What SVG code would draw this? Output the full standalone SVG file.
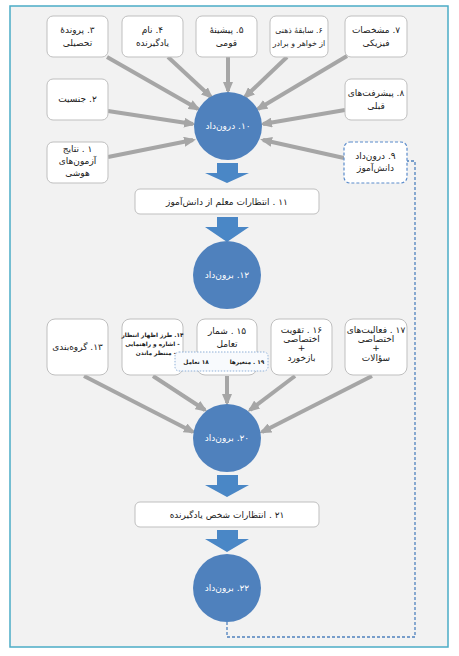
<svg xmlns="http://www.w3.org/2000/svg" width="459" height="656" viewBox="0 0 459 656">
<style>
.box{fill:#ffffff;stroke:#bfbfbf;stroke-width:1}
.t{font-family:"DejaVu Sans","Noto Sans",sans-serif;font-size:9px;fill:#1a1a1a;text-anchor:middle;direction:rtl}
.ts{font-family:"DejaVu Sans","Noto Sans",sans-serif;font-size:7.8px;fill:#1a1a1a;text-anchor:middle;direction:rtl}
.tb{font-family:"DejaVu Sans","Noto Sans",sans-serif;font-size:5.8px;font-weight:bold;fill:#1a1a1a;text-anchor:middle;direction:rtl}
.tw{font-family:"DejaVu Sans","Noto Sans",sans-serif;font-size:9px;fill:#ffffff;text-anchor:middle;direction:rtl}
.circ{fill:#4f81bd}
.blk{fill:#4a87c6}
.con{stroke:#a6a6a6;stroke-width:4;fill:none;marker-end:url(#ah)}
</style>
<defs>
<marker id="ah" markerUnits="userSpaceOnUse" markerWidth="12" markerHeight="10" refX="9" refY="5" orient="auto">
<path d="M0,0 L12,5 L0,10 z" fill="#a6a6a6"/>
</marker>
</defs>
<rect x="0" y="0" width="459" height="656" fill="#ffffff"/>
<rect x="10" y="6" width="438" height="641" fill="#f2f2f2" stroke="#4bacc6" stroke-width="1.5"/>

<g id="connectors">
<line class="con" x1="107" y1="57" x2="198" y2="109"/>
<line class="con" x1="168" y1="57" x2="211" y2="97"/>
<line class="con" x1="228" y1="57" x2="228" y2="91"/>
<line class="con" x1="287" y1="57" x2="245" y2="97"/>
<line class="con" x1="347" y1="56" x2="258" y2="109"/>
<line class="con" x1="108" y1="111" x2="193" y2="124"/>
<line class="con" x1="345" y1="110" x2="263" y2="124"/>
<line class="con" x1="108" y1="157" x2="193" y2="140"/>
<line class="con" x1="344" y1="158" x2="263" y2="140"/>
<line class="con" x1="84" y1="376" x2="193" y2="432"/>
<line class="con" x1="153" y1="376" x2="205" y2="410"/>
<line class="con" x1="227" y1="376" x2="227" y2="403"/>
<line class="con" x1="295" y1="376" x2="250" y2="410"/>
<line class="con" x1="372" y1="376" x2="262" y2="432"/>
<path d="M227,622 V637 H415 V161 H407" fill="none" stroke="#4f81bd" stroke-width="1.3" stroke-dasharray="3,2"/>
<polygon class="blk" points="217,163 238,163 238,173 249,173 227,183 205,173 217,173"/>
<polygon class="blk" points="217,217 238,217 238,227 249,227 227,242 205,227 217,227"/>
<polygon class="blk" points="217,475 238,475 238,485 249,485 227,497 205,485 217,485"/>
<polygon class="blk" points="217,530 238,530 238,539 249,539 227,552 205,539 217,539"/>
</g>

<g id="n3"><rect class="box" x="47" y="16" width="61" height="41" rx="6"/>
<text class="t" x="77.5" y="33">۳. پروندهٔ</text><text class="t" x="77.5" y="46">تحصیلی</text></g>
<g id="n4"><rect class="box" x="122" y="16" width="61" height="41" rx="6"/>
<text class="t" x="152.5" y="33">۴. نام</text><text class="t" x="152.5" y="46">یادگیرنده</text></g>
<g id="n5"><rect class="box" x="196" y="16" width="61" height="41" rx="6"/>
<text class="t" x="226.5" y="33">۵. پیشینهٔ</text><text class="t" x="226.5" y="46">قومی</text></g>
<g id="n6"><rect class="box" x="270" y="16" width="58" height="41" rx="6"/>
<text class="ts" x="299" y="33">۶. سابقهٔ ذهنی</text><text class="ts" x="299" y="46">از خواهر و برادر</text></g>
<g id="n7"><rect class="box" x="345" y="16" width="62" height="41" rx="6"/>
<text class="t" x="376" y="33">۷. مشخصات</text><text class="t" x="376" y="46">فیزیکی</text></g>
<g id="n2"><rect class="box" x="47" y="79" width="61" height="41" rx="6"/>
<text class="t" x="77.5" y="102">۲. جنسیت</text></g>
<g id="n8"><rect class="box" x="345" y="79" width="62" height="41" rx="6"/>
<text class="t" x="376" y="96">۸. پیشرفت‌های</text><text class="t" x="376" y="109">قبلی</text></g>
<g id="n1"><rect class="box" x="47" y="142" width="61" height="41" rx="6"/>
<text class="t" x="77.5" y="152">۱ . نتایج</text><text class="t" x="77.5" y="164">آزمون‌های</text><text class="t" x="77.5" y="176">هوشی</text></g>
<g id="n9"><rect x="344" y="142" width="63" height="41" rx="6" fill="#ffffff" stroke="#5b8ccc" stroke-width="1.2" stroke-dasharray="3,2"/>
<text class="t" x="375.5" y="159">۹. درون‌داد</text><text class="t" x="375.5" y="171">دانش‌آموز</text></g>
<g id="n10"><circle class="circ" cx="228" cy="126" r="34"/><text class="tw" x="228" y="129">۱۰. درون‌داد</text></g>
<g id="n11"><rect class="box" x="135" y="189" width="184" height="25" rx="5"/>
<text class="t" x="227" y="205">۱۱ . انتظارات معلم از دانش‌آموز</text></g>
<g id="n12"><circle class="circ" cx="227" cy="275" r="34"/><text class="tw" x="227" y="278">۱۲. برون‌داد</text></g>
<g id="n13"><rect class="box" x="47" y="319" width="61" height="56" rx="8"/>
<text class="t" x="77.5" y="350">۱۳. گروه‌بندی</text></g>
<g id="n14"><rect class="box" x="122" y="319" width="61" height="56" rx="8"/>
<text class="tb" x="152.5" y="337">۱۴. طرز اظهار انتظار</text><text class="tb" x="152.5" y="346">- اشاره و راهنمایی</text><text class="tb" x="156" y="355">- منتظر ماندن</text></g>
<g id="n15"><rect class="box" x="197" y="319" width="60" height="56" rx="8"/>
<text class="t" x="227" y="334">۱۵ . شمار</text><text class="t" x="227" y="347">تعامل</text></g>
<g id="n16"><rect class="box" x="271" y="319" width="61" height="56" rx="8"/>
<text class="t" x="301.5" y="333">۱۶ . تقویت</text><text class="t" x="301.5" y="342">اختصاصی</text><text class="t" x="301.5" y="351">+</text><text class="t" x="301.5" y="361">بازخورد</text></g>
<g id="n17"><rect class="box" x="345" y="319" width="62" height="56" rx="8"/>
<text class="t" x="376" y="333">۱۷ . فعالیت‌های</text><text class="t" x="376" y="342">اختصاصی</text><text class="t" x="376" y="351">+</text><text class="t" x="376" y="361">سؤالات</text></g>
<g id="n18-19"><rect x="175" y="352" width="93" height="19" rx="4" fill="#f8fafd" stroke="#8fb0d8" stroke-width="1" stroke-dasharray="1.5,1.5"/>
<text class="tb" x="196" y="364">۱۸ تعامل</text><text class="tb" x="247" y="364">۱۹ . متغیرها</text></g>
<g id="n20"><circle class="circ" cx="227" cy="438" r="34"/><text class="tw" x="227" y="441">۲۰. برون‌داد</text></g>
<g id="n21"><rect class="box" x="135" y="502" width="184" height="25" rx="5"/>
<text class="t" x="227" y="518">۲۱ . انتظارات شخص یادگیرنده</text></g>
<g id="n22"><circle class="circ" cx="227" cy="588" r="34"/><text class="tw" x="227" y="591">۲۲. برون‌داد</text></g>
</svg>
